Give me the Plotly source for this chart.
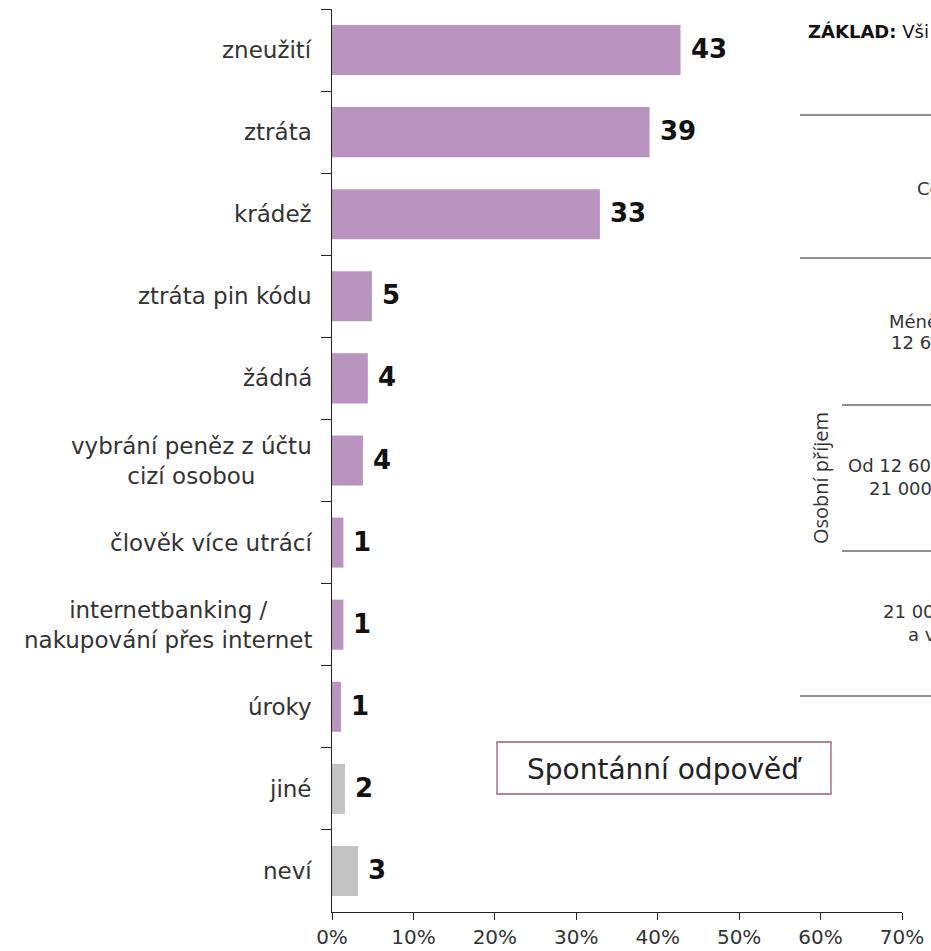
import plotly.graph_objects as go

categories = ["zneužití", "ztráta", "krádež", "ztráta pin kódu", "žádná",
              "vybrání peněz z účtu<br>cizí osobou", "člověk více utrácí",
              "internetbanking /<br>nakupování přes internet", "úroky", "jiné", "neví"]
values = [42.8, 39.0, 32.9, 4.9, 4.4, 3.8, 1.4, 1.4, 1.1, 1.6, 3.2]
value_labels = ["43", "39", "33", "5", "4", "4", "1", "1", "1", "2", "3"]
bar_colors = ["#b894be"] * 9 + ["#c3c3c3"] * 2
x_ticks = [0, 10, 20, 30, 40, 50, 60, 70]
x_tick_text = ["0%", "10%", "20%", "30%", "40%", "50%", "60%", "70%"]

W, H = 931, 951
L, R, T, B = 332, 29, 9, 39
PW = W - L - R
PH = H - T - B

def px_x(p):  # screen px -> paper
    return (p - L) / PW

def px_y(p):
    return (H - B - p) / PH

FONT = "DejaVu Sans"

fig = go.Figure()
fig.add_trace(go.Bar(
    y=categories, x=values, orientation="h",
    marker=dict(color=bar_colors, line=dict(width=0)),
    width=0.61, hoverinfo="skip",
))

annotations = []
for c in categories:
    annotations.append(dict(
        x=0, xref="x", y=c, yref="y", text=c, showarrow=False,
        xanchor="right", xshift=-18, align="center",
        font=dict(family=FONT, size=23, color="#333333"),
    ))
for c, v, t in zip(categories, values, value_labels):
    annotations.append(dict(
        x=v, xref="x", y=c, yref="y", text=t, showarrow=False,
        xanchor="left", xshift=8, yshift=1,
        font=dict(family=FONT, size=26, color="#111111", weight="bold"),
    ))

def txt(x, y, s, size=18, family=FONT, color="#333333", **kw):
    d = dict(x=px_x(x), y=px_y(y), xref="paper", yref="paper", xanchor="left", yanchor="middle",
             text=s, showarrow=False, font=dict(family=family, size=size, color=color))
    d.update(kw)
    return d

# Right-side table fragment (cut off at the image edge, as in the reference)
annotations += [
    txt(806, 31, "<b>ZÁKLAD:</b> Vši", color="#111111"),
    txt(915, 188, "Co"),
    txt(887, 321, "Méně"),
    txt(889, 342, "12 6"),
    txt(846, 465, "Od 12 60"),
    txt(867, 489, "21 000"),
    txt(881, 611, "21 00"),
    txt(906, 634, "a v"),
    dict(x=px_x(820), y=px_y(478), xref="paper", yref="paper", xanchor="center", yanchor="middle",
         text="Osobní příjem", textangle=-90, showarrow=False,
         font=dict(family="Open Sans", size=20, color="#333333")),
    dict(x=px_x(664), y=px_y(769), xref="paper", yref="paper", xanchor="center", yanchor="middle",
         text="Spontánní odpověď", showarrow=False, font=dict(family=FONT, size=28, color="#222222")),
]

shapes = [
    dict(type="rect", xref="paper", yref="paper", x0=px_x(497), x1=px_x(831), y0=px_y(794), y1=px_y(742),
         line=dict(color="#a5577a", width=1.3), fillcolor="rgba(0,0,0,0)"),
]
for y0, x0 in [(115, 800), (258, 800), (405, 842), (551, 842), (696, 800)]:
    shapes.append(dict(type="line", xref="paper", yref="paper", x0=px_x(x0), x1=px_x(940),
                       y0=px_y(y0), y1=px_y(y0), line=dict(color="#222222", width=1.2)))

fig.update_layout(
    width=W, height=H,
    margin=dict(l=L, r=R, t=T, b=B, pad=0),
    paper_bgcolor="white", plot_bgcolor="white",
    showlegend=False,
    annotations=annotations, shapes=shapes,
    xaxis=dict(range=[0, 70], tickvals=x_ticks, ticktext=x_tick_text,
               showgrid=False, zeroline=False, showline=True, linecolor="#222222", linewidth=1.3,
               ticks="outside", ticklen=7, tickcolor="#222222", tickwidth=1.3, automargin=False,
               tickfont=dict(family=FONT, size=20, color="#333333"), fixedrange=True),
    yaxis=dict(autorange=False, range=[10.5, -0.5], showgrid=False, zeroline=False,
               showline=True, linecolor="#222222", linewidth=1.3, automargin=False,
               ticks="outside", tickson="boundaries", ticklen=10, tickcolor="#222222", tickwidth=1.3,
               showticklabels=False, fixedrange=True),
)

fig.write_html(
    "out.html",
    config={"displayModeBar": False, "responsive": False},
    post_script="document.body.style.margin='0';",
)
